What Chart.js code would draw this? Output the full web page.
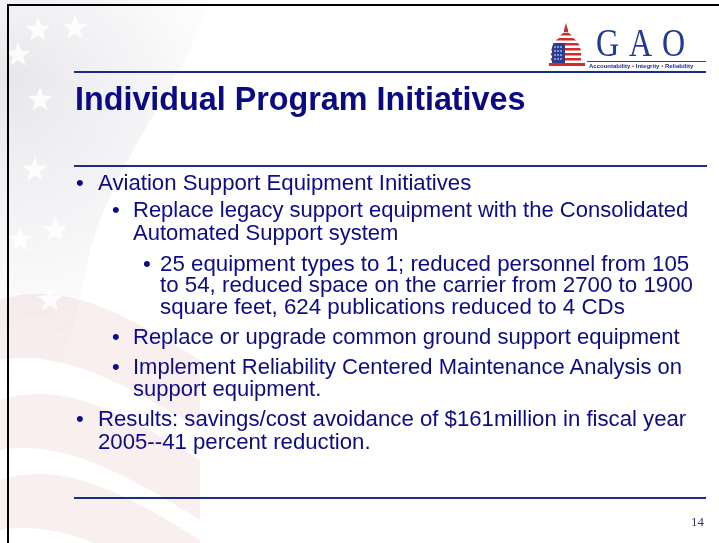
<!DOCTYPE html>
<html>
<head>
<meta charset="utf-8">
<script src="https://cdn.jsdelivr.net/npm/chart.js@4"></script>
<style>
  html, body { margin:0; padding:0; background:#fff; }
  #slide { position:relative; width:719px; height:543px; overflow:hidden; background:#fff; }
  #bg { position:absolute; left:0; top:0; }
  .abs { position:absolute; white-space:nowrap; }
  .rule { position:absolute; height:2px; background:#182d8c; }
  .txt { font-family:"Liberation Sans", Arial, sans-serif; color:#0c0c8a; font-size:22px; line-height:22px; }
  .title { font-family:"Liberation Sans", Arial, sans-serif; font-weight:bold; color:#0a0a84; font-size:32.3px; line-height:32px; }
  .gao { font-family:"Liberation Serif", "Times New Roman", serif; color:#22399a; font-size:40px; line-height:40px; }
  .tag { font-family:"Liberation Sans", Arial, sans-serif; font-weight:bold; color:#1c2f8a; font-size:6px; line-height:6px; }
  .pg { font-family:"Liberation Serif", "Times New Roman", serif; color:#34348c; font-size:13px; line-height:13px; }
</style>
</head>
<body>
<div id="slide">
  <canvas id="bg" width="719" height="543"></canvas>
  <div id="layer"></div>
</div>
<script>
// ---- Slide content (data) ----
const titleText = "Individual Program Initiatives";
const bulletTexts = [
  "Aviation Support Equipment Initiatives",
  "Replace legacy support equipment with the Consolidated",
  "Automated Support system",
  "25 equipment types to 1; reduced personnel from 105",
  "to 54, reduced space on the carrier from 2700 to 1900",
  "square feet, 624 publications reduced to 4 CDs",
  "Replace or upgrade common ground support equipment",
  "Implement Reliability Centered Maintenance Analysis on",
  "support equipment.",
  "Results: savings/cost avoidance of $161million in fiscal year",
  "2005--41 percent reduction."
];
const bulletLevels = [1, 2, 2, 3, 3, 3, 2, 2, 2, 1, 1];
const bulletStarts = [true, true, false, true, false, false, true, true, false, true, false];
const logoLetters = ["G", "A", "O"];
const taglineParts = ["Accountability", "Integrity", "Reliability"];
const pageNumber = "14";

// ---- Layout (positions/styles) ----
const lineBaselines = [191, 218, 241, 272, 293, 315, 345, 375, 397, 427, 450];
const levelTextX = {1: 98, 2: 133, 3: 160};
const levelBulletX = {1: 76, 2: 112, 3: 143};
const levelSize = {1: 22.2, 2: 22, 3: 22.3};

const layer = document.getElementById('layer');
function add(cls, text, left, top, extra) {
  const d = document.createElement('div');
  d.className = 'abs ' + cls;
  d.textContent = text;
  d.style.left = left + 'px';
  d.style.top = top + 'px';
  if (extra) Object.assign(d.style, extra);
  layer.appendChild(d);
  return d;
}
function rule(x1, x2, y, h, color) {
  const d = document.createElement('div');
  d.className = 'rule';
  d.style.left = x1 + 'px'; d.style.width = (x2 - x1) + 'px';
  d.style.top = y + 'px';
  if (h) d.style.height = h + 'px';
  if (color) d.style.background = color;
  layer.appendChild(d);
}

// border (top & left)
rule(7, 719, 4, 2, '#000');
const lb = document.createElement('div');
lb.style.cssText = 'position:absolute;left:7px;top:4px;width:2px;height:539px;background:#000;';
layer.appendChild(lb);

// rules
rule(74, 706, 71, 2);
rule(74, 707, 165, 2);
rule(74, 706, 497, 2);
rule(587, 706, 61, 1, '#2a3f98');

// title
add('title', titleText, 75, 112 - 29);

// bullets
bulletTexts.forEach((t, i) => {
  const lv = bulletLevels[i];
  const sz = levelSize[lv];
  const top = lineBaselines[i] - Math.round(sz * 0.8465);
  const st = {fontSize: sz + 'px', lineHeight: sz + 'px'};
  add('txt', t, levelTextX[lv], top, st);
  if (bulletStarts[i]) add('txt', '\u2022', levelBulletX[lv], top, st);
});

// logo letters
const letterX = [596, 629, 662];
logoLetters.forEach((L, i) => {
  add('gao', L, letterX[i], 58 - 35, {transform: 'scaleX(0.8)', transformOrigin: 'left top'});
});
// tagline
const tag = document.createElement('div');
tag.className = 'abs tag';
tag.style.left = '589px'; tag.style.top = '63px';
tag.innerHTML = taglineParts.join(' <span style="color:#d0202a">\u2022</span> ');
layer.appendChild(tag);

// page number
add('pg', pageNumber, 691, 526 - 11);

// capitol dome (svg)
const svgNS = 'http://www.w3.org/2000/svg';
const svg = document.createElementNS(svgNS, 'svg');
svg.setAttribute('width', '40'); svg.setAttribute('height', '50');
svg.style.cssText = 'position:absolute;left:547px;top:21px;';
svg.innerHTML = `
  <defs><clipPath id="dome"><path d="M4 44 L4 30 Q6 20 12 17 Q14 12 19 11 Q24 12 26 17 Q32 20 34 30 L34 44 Z"/></clipPath></defs>
  <path d="M19 2 L21 9 L17 9 Z" fill="#d42a2a"/>
  <rect x="17" y="8" width="4" height="5" fill="#d42a2a"/>
  <g clip-path="url(#dome)">
    <rect x="0" y="10" width="40" height="40" fill="#fff"/>
    <rect x="0" y="12" width="40" height="2.5" fill="#d42a2a"/>
    <rect x="0" y="17" width="40" height="2.5" fill="#d42a2a"/>
    <rect x="0" y="22" width="40" height="2.5" fill="#d42a2a"/>
    <rect x="0" y="27" width="40" height="2.5" fill="#d42a2a"/>
    <rect x="0" y="32" width="40" height="2.5" fill="#d42a2a"/>
    <rect x="0" y="37" width="40" height="2.5" fill="#d42a2a"/>
    <rect x="0" y="42" width="40" height="2.5" fill="#d42a2a"/>
    <rect x="5" y="22" width="13" height="22" fill="#2a3c94"/>
  </g>
  <rect x="2" y="42" width="36" height="3" fill="#d42a2a"/>
  <g fill="#fff">
    <circle cx="8" cy="26" r="0.8"/><circle cx="11" cy="26" r="0.8"/><circle cx="14" cy="26" r="0.8"/>
    <circle cx="8" cy="30" r="0.8"/><circle cx="11" cy="30" r="0.8"/><circle cx="14" cy="30" r="0.8"/>
    <circle cx="8" cy="34" r="0.8"/><circle cx="11" cy="34" r="0.8"/><circle cx="14" cy="34" r="0.8"/>
    <circle cx="8" cy="38" r="0.8"/><circle cx="11" cy="38" r="0.8"/><circle cx="14" cy="38" r="0.8"/>
  </g>`;
layer.appendChild(svg);

// ---- Chart.js: background flag watermark drawn on the chart canvas ----
const starPos = [[38, 30], [75, 28], [40, 100], [18, 55], [35, 170], [55, 230], [20, 240], [50, 300]];
function star(ctx, cx, cy, r) {
  ctx.beginPath();
  for (let i = 0; i < 10; i++) {
    const a = -Math.PI / 2 + i * Math.PI / 5;
    const rr = i % 2 ? r * 0.42 : r;
    ctx.lineTo(cx + rr * Math.cos(a), cy + rr * Math.sin(a));
  }
  ctx.closePath();
  ctx.fill();
}
const flagPlugin = {
  id: 'flag',
  beforeDraw(chart) {
    const ctx = chart.ctx;
    ctx.save();
    // gray canton region
    const g = ctx.createRadialGradient(10, 80, 10, 40, 140, 250);
    g.addColorStop(0, 'rgba(205,205,212,0.45)');
    g.addColorStop(0.5, 'rgba(220,220,226,0.28)');
    g.addColorStop(1, 'rgba(240,240,244,0)');
    ctx.fillStyle = g;
    ctx.beginPath();
    ctx.moveTo(0, 0); ctx.lineTo(210, 0);
    ctx.bezierCurveTo(180, 90, 120, 150, 90, 250);
    ctx.bezierCurveTo(80, 300, 70, 360, 40, 420);
    ctx.lineTo(0, 440); ctx.closePath(); ctx.fill();
    // pink stripes
    ctx.globalAlpha = 0.16;
    ctx.fillStyle = '#e39a9a';
    const bands = [[300, 360], [400, 450], [480, 530]];
    bands.forEach(([a, b]) => {
      ctx.beginPath();
      ctx.moveTo(0, a); ctx.bezierCurveTo(60, a - 20, 120, a + 10, 200, a + 60);
      ctx.lineTo(200, b + 70); ctx.bezierCurveTo(120, b + 20, 60, b - 10, 0, b);
      ctx.closePath(); ctx.fill();
    });
    ctx.globalAlpha = 1;
    // stars
    ctx.fillStyle = 'rgba(255,255,255,0.85)';
    starPos.forEach(([x, y]) => star(ctx, x, y, 13));
    ctx.restore();
  }
};
Chart.defaults.animation = false;
new Chart(document.getElementById('bg'), {
  type: 'scatter',
  data: { datasets: [{ data: [] }] },
  options: {
    responsive: false,
    animation: false,
    plugins: { legend: { display: false }, tooltip: { enabled: false } },
    scales: { x: { display: false }, y: { display: false } }
  },
  plugins: [flagPlugin]
});
</script>
</body>
</html>
